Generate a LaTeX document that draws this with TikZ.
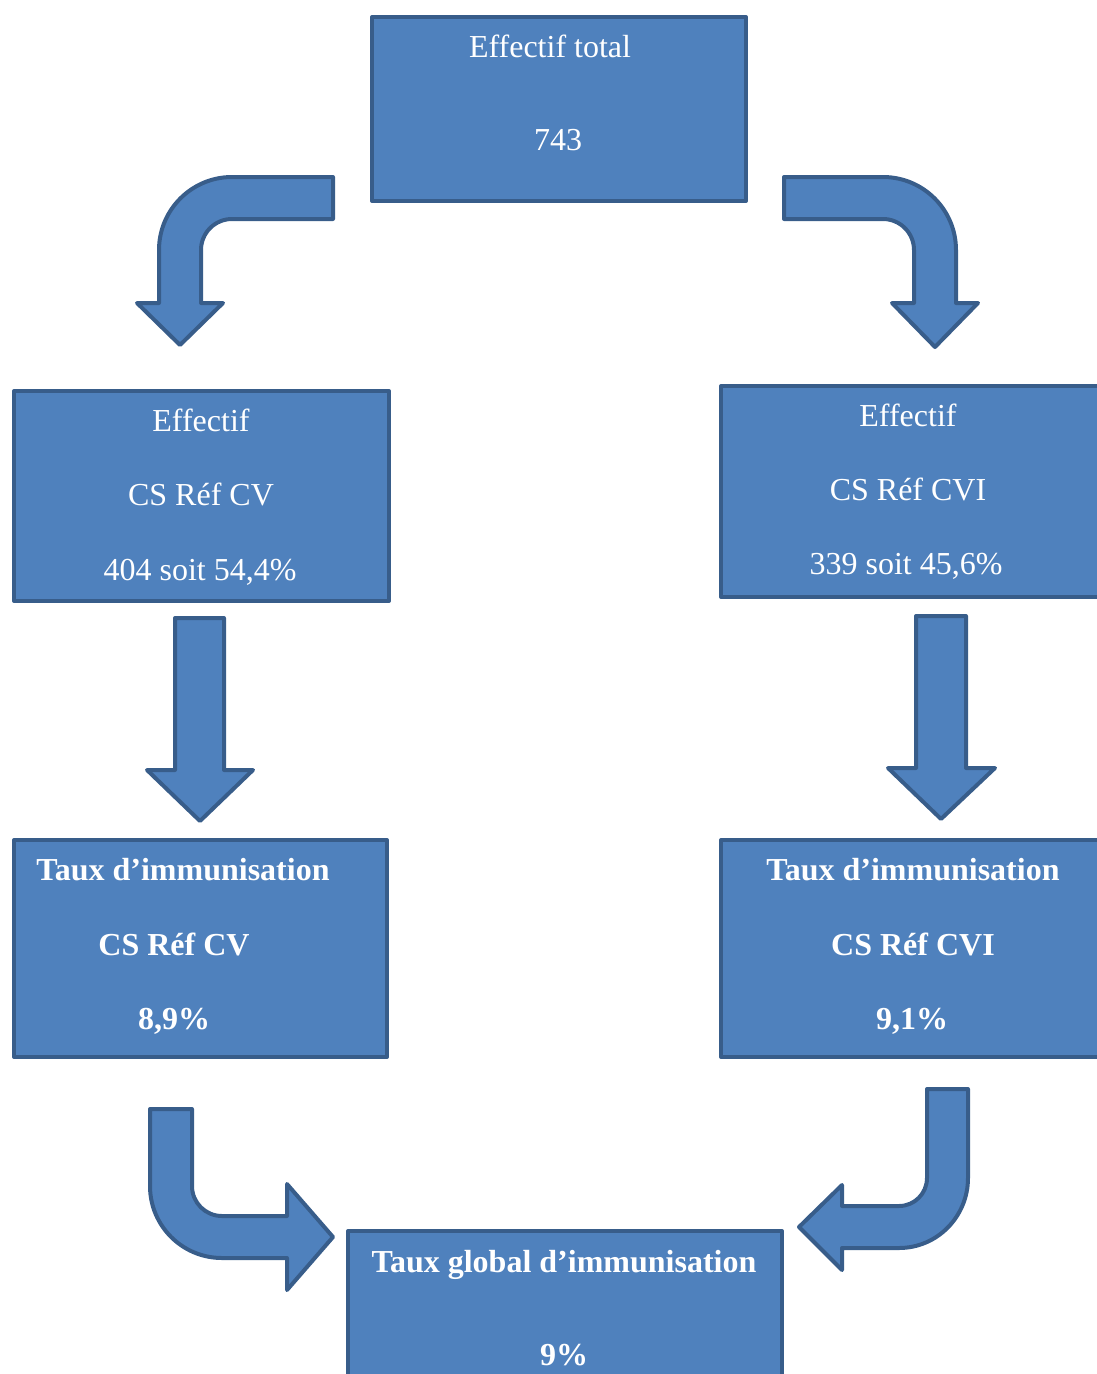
\documentclass[tikz,border=0pt]{standalone}
\usepackage{fontspec}
\setmainfont{Liberation Serif}
\definecolor{boxfill}{HTML}{4F81BD}
\definecolor{boxline}{HTML}{385D8A}

\begin{document}
\begin{tikzpicture}[x=1pt,y=-1pt,
  box/.style={draw=boxline,fill=boxfill,line width=4pt,line join=round,rectangle,inner sep=0pt},
  blk/.style={draw=boxline,fill=boxfill,line width=4pt,line join=round},
  txt/.style={anchor=base,text=white,inner sep=0pt,font=\fontsize{32}{38}\selectfont},
  btxt/.style={txt,font=\fontsize{32}{38}\selectfont\bfseries}]
\clip (0,0) rectangle (1097,1374);

% boxes
\node[box,minimum width=374pt,minimum height=184pt] (tot) at (559,109) {};
\node[box,minimum width=375pt,minimum height=210pt] (cv) at (201.5,496) {};
\node[box,minimum width=379pt,minimum height=211pt] (cvi) at (910.5,491.5) {};
\node[box,minimum width=373pt,minimum height=217pt] (tcv) at (200.5,948.5) {};
\node[box,minimum width=379pt,minimum height=217pt] (tcvi) at (910.5,948.5) {};
\node[box,minimum width=434pt,minimum height=169pt] (glob) at (565,1315.5) {};

% texts
\node[txt] (totA) at (550,57) {Effectif total};
\node[txt] (totB) at (558,150) {743};
\node[txt] (cvA) at (201,431) {Effectif};
\node[txt] (cvB) at (201,505) {CS Réf CV};
\node[txt] (cvC) at (200,580) {404 soit 54,4\%};
\node[txt] (cviA) at (908,426) {Effectif};
\node[txt] (cviB) at (908,500) {CS Réf CVI};
\node[txt] (cviC) at (906,574) {339 soit 45,6\%};
\node[btxt] (tcvA) at (183,880) {Taux d’immunisation};
\node[btxt] (tcvB) at (174,955) {CS Réf CV};
\node[btxt] (tcvC) at (174,1029) {8,9\%};
\node[btxt] (tcviA) at (913,880) {Taux d’immunisation};
\node[btxt] (tcviB) at (913,955) {CS Réf CVI};
\node[btxt] (tcviC) at (912,1029) {9,1\%};
\node[btxt] (globA) at (564,1272) {Taux global d’immunisation};
\node[btxt] (globB) at (564,1365) {9\%};

% bent and straight block arrows
\draw[blk] (333,177) -- (232,177) .. controls (191.7,177) and (159,209.7) .. (159,250)
  -- (159,303) -- (137,303) -- (180,345) -- (223,303) -- (201,303) -- (201,250)
  .. controls (201,232.9) and (214.9,219) .. (232,219) -- (333,219) -- cycle;
\draw[blk] (784,177) -- (883,177) .. controls (923.3,177) and (956,209.7) .. (956,250)
  -- (956,303) -- (978,303) -- (935,347) -- (892,303) -- (914,303) -- (914,250)
  .. controls (914,232.9) and (900.1,219) .. (883,219) -- (784,219) -- cycle;
\draw[blk] (175,618) -- (224,618) -- (224,770) -- (253,770) -- (200,821) -- (147,770) -- (175,770) -- cycle;
\draw[blk] (916,616) -- (966,616) -- (966,768) -- (995,768) -- (941,819) -- (888,768) -- (916,768) -- cycle;
\draw[blk] (150,1109) -- (192,1109) -- (192,1186) .. controls (192,1202.6) and (205.4,1216) .. (222,1216)
  -- (287,1216) -- (287,1184) -- (333,1237) -- (287,1290) -- (287,1258) -- (222,1258)
  .. controls (182.2,1258) and (150,1225.8) .. (150,1186) -- cycle;
\draw[blk] (968,1089) -- (927,1089) -- (927,1178) .. controls (927,1193.5) and (914.5,1206) .. (899,1206)
  -- (842,1206) -- (842,1185) -- (799,1227) -- (842,1270) -- (842,1248) -- (899,1248)
  .. controls (937.4,1248) and (968,1216.4) .. (968,1178) -- cycle;
\end{tikzpicture}
\end{document}
